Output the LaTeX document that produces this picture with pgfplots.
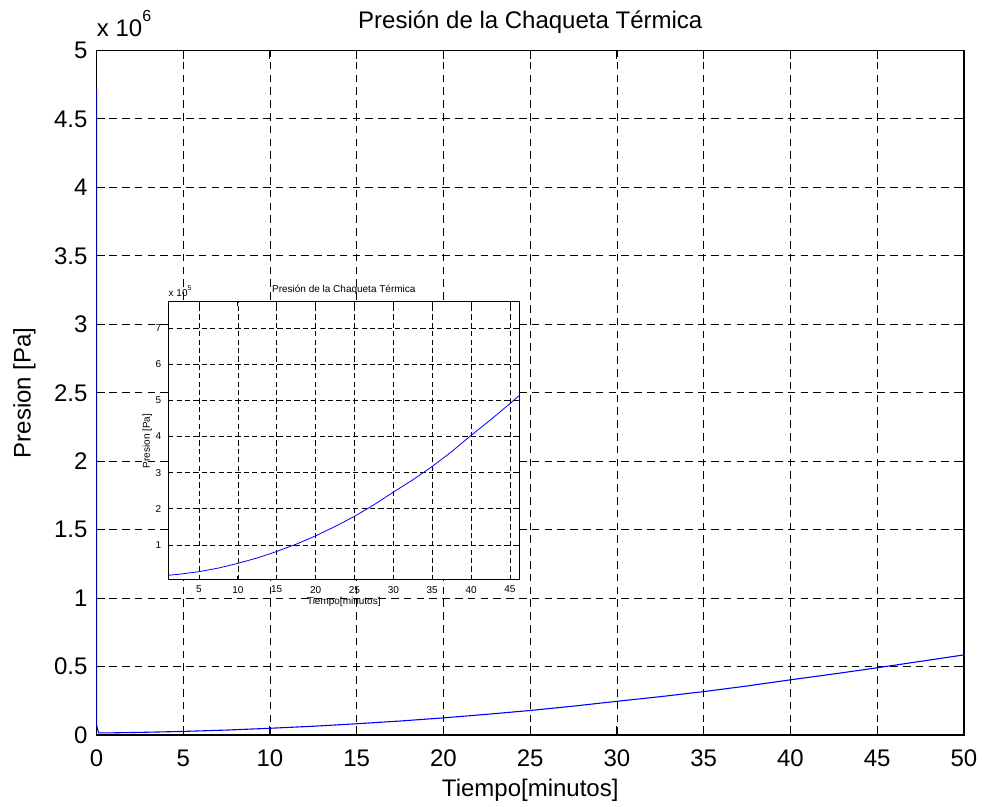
\documentclass[border=0pt]{standalone}
\usepackage{pgfplots}
\pgfplotsset{compat=1.18}
\usepackage{pgfplotstable}
\usepackage{fontspec}
\setmainfont{Liberation Sans}

% time [min], pressure [x 1e5 Pa]
\pgfplotstableread{
t P
0 47.2
0 0.73
0.12 0.15
1.05 0.16
2.5 0.19
5 0.26
7.5 0.36
10 0.49
12.5 0.64
15 0.82
17.5 1.02
20 1.25
22.5 1.51
25 1.79
27.5 2.11
30 2.46
32.5 2.80
35 3.17
37.5 3.58
40 4.03
42.5 4.46
45 4.91
47.5 5.38
50 5.85
}\presdata

\begin{document}
\begin{tikzpicture}
\begin{axis}[
  name=main,
  at={(0,0)}, anchor=south west,
  scale only axis, width=433.75pt, height=342.25pt,
  xmin=0, xmax=50, ymin=0, ymax=5,
  xtick={0,5,...,50}, ytick={0,0.5,...,5},
  grid=major,
  major grid style={black, line width=0.45pt, dash pattern=on 3.8pt off 2.6pt},
  tick align=inside, major tick length=4.5pt,
  tick style={black, line width=0.5pt},
  axis line style={black, line width=0.6pt},
  /pgf/number format/assume math mode=true,
  yticklabel style={/pgf/number format/fixed, /pgf/number format/precision=1, xshift=-1pt},
  ticklabel style={font=\fontsize{12}{14}\selectfont},
  xticklabel style={yshift=-4pt},
  scaled ticks=false,
]
\addplot[blue, line width=0.55pt] table[x=t, y expr=\thisrow{P}/10] {\presdata};
\end{axis}
\node[font=\fontsize{12}{14}\selectfont] at ([yshift=14pt]main.north) {Presión de la Chaqueta Térmica};
\node[font=\fontsize{12}{14}\selectfont, anchor=base west, inner sep=0pt] at ([yshift=7pt]main.north west) {x 10\raisebox{0.62em}{\fontsize{8}{9}\selectfont 6}};
\node[font=\fontsize{12}{14}\selectfont] at ([yshift=-27.5pt]main.south) {Tiempo[minutos]};
\node[font=\fontsize{12}{14}\selectfont, rotate=90] at ([xshift=-36pt]main.west) {Presion [Pa]};

\begin{axis}[
  name=inset,
  at={(35.9pt,77.5pt)}, anchor=south west,
  scale only axis, width=175.5pt, height=139pt,
  xmin=1.05, xmax=46.2, ymin=0.03, ymax=7.72,
  xtick={5,10,...,45}, ytick={1,2,...,7},
  axis background/.style={fill=white},
  grid=major,
  major grid style={black, line width=0.35pt, dash pattern=on 2.6pt off 1.6pt},
  tick align=inside, major tick length=2pt,
  tick style={black, line width=0.4pt},
  axis line style={black, line width=0.5pt},
  /pgf/number format/assume math mode=true,
  ticklabel style={font=\fontsize{5}{6}\selectfont},
  xticklabel style={yshift=0.5pt},
  scaled ticks=false,
]
\addplot[blue, line width=0.4pt] table[x=t, y=P] {\presdata};
\end{axis}
\node[font=\fontsize{5}{6}\selectfont] at ([yshift=6pt]inset.north) {Presión de la Chaqueta Térmica};
\node[font=\fontsize{5}{6}\selectfont, anchor=base west, inner sep=0pt] at ([yshift=2.5pt]inset.north west) {x 10\raisebox{0.6em}{\fontsize{3.5}{4}\selectfont 5}};
\node[font=\fontsize{5}{6}\selectfont] at ([yshift=-11pt]inset.south) {Tiempo[minutos]};
\node[font=\fontsize{5}{6}\selectfont, rotate=90] at ([xshift=-10.5pt]inset.west) {Presion [Pa]};

\pgfresetboundingbox
\path[use as bounding box] (-48.25pt,-36pt) rectangle (442.75pt,367.5pt);
\end{tikzpicture}
\end{document}
